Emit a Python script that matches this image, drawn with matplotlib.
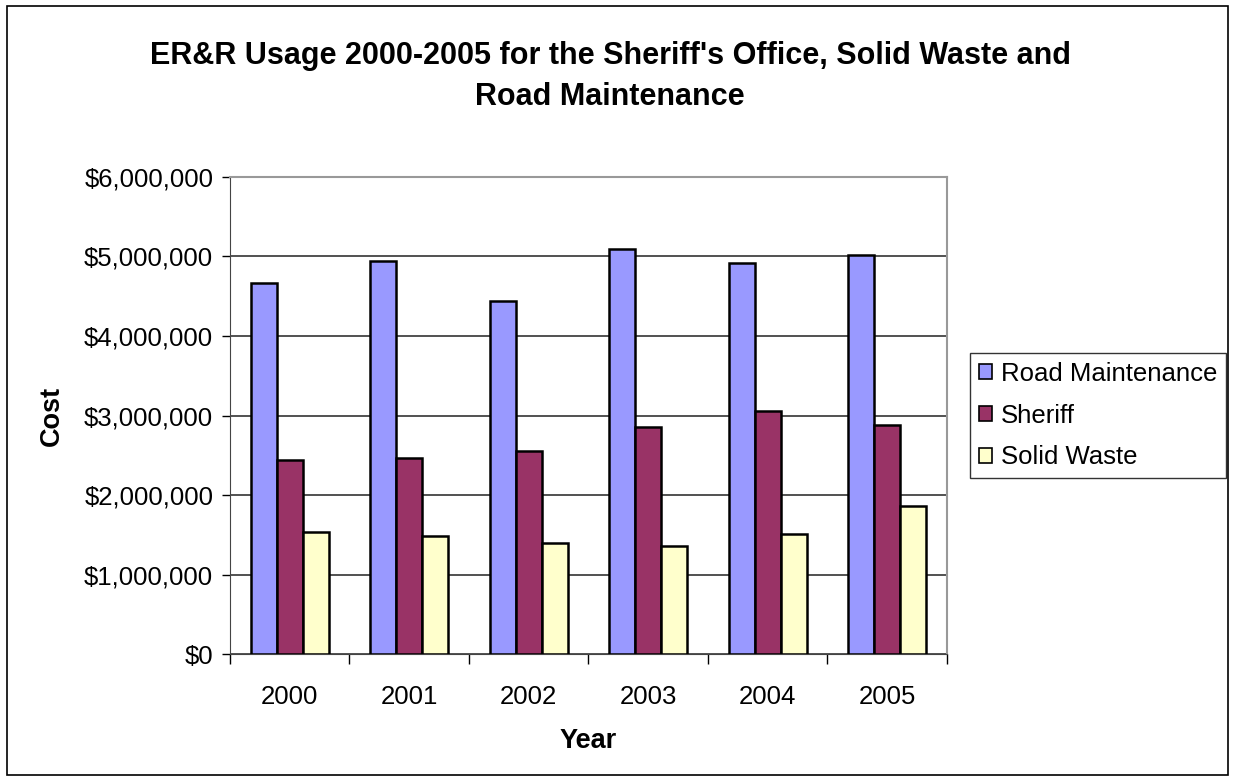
import matplotlib.pyplot as plt
from matplotlib.patches import Rectangle
from matplotlib.ticker import FuncFormatter
import numpy as np

plt.rcParams['font.family'] = ['Liberation Sans', 'DejaVu Sans']

years = ['2000', '2001', '2002', '2003', '2004', '2005']
road = [4665000, 4940000, 4435000, 5095000, 4920000, 5020000]
sheriff = [2446000, 2470000, 2550000, 2855000, 3055000, 2884000]
solid = [1530000, 1484000, 1400000, 1353000, 1504000, 1862000]

series = [('Road Maintenance', road, '#9999ff'),
          ('Sheriff', sheriff, '#993366'),
          ('Solid Waste', solid, '#ffffcc')]

fig = plt.figure(figsize=(12.35, 7.8), dpi=100)
ax = fig.add_axes([0.1862, 0.1615, 0.5806, 0.6116])

x = np.arange(len(years))
w = 0.2175
for i, (name, vals, col) in enumerate(series):
    ax.bar(x + (i - 1) * w, vals, width=w, color=col, edgecolor='black',
           linewidth=1.8, label=name, zorder=3)

ax.set_xlim(-0.5, len(years) - 0.5)
ax.set_ylim(0, 6000000)
ax.set_yticks(np.arange(0, 6000001, 1000000))
ax.yaxis.set_major_formatter(FuncFormatter(lambda v, p: '${:,.0f}'.format(v)))
ax.grid(axis='y', color='#333333', linewidth=1.2, zorder=0)

ax.set_xticks(x)
ax.set_xticklabels(years)
ax.set_xticks(np.arange(-0.5, len(years)), minor=True)
ax.tick_params(axis='x', which='major', length=0, pad=22, labelsize=18.5)
ax.tick_params(axis='x', which='minor', length=7, width=1, direction='out')
ax.tick_params(axis='y', length=6, width=1, direction='out', pad=6, labelsize=18.5)

for s in ['top', 'right']:
    ax.spines[s].set_color('#999999')
    ax.spines[s].set_linewidth(1.5)
ax.spines['left'].set_color('#444444')
ax.spines['bottom'].set_color('#444444')

ax.set_xlabel('Year', fontsize=19.5, fontweight='bold', labelpad=14)
ax.set_ylabel('Cost', fontsize=19.5, fontweight='bold', labelpad=14)

fig.text(0.494, 0.902, "ER&R Usage 2000-2005 for the Sheriff's Office, Solid Waste and\nRoad Maintenance",
         ha='center', va='center', fontsize=22, fontweight='bold', linespacing=1.45)

leg = ax.legend(loc='center left', bbox_to_anchor=(1.032, 0.5), fontsize=18.5,
                frameon=True, fancybox=False, edgecolor='black',
                handlelength=0.5, handleheight=0.5, handletextpad=0.35,
                borderpad=0.35, labelspacing=0.7, borderaxespad=0)
leg.get_frame().set_linewidth(1.0)
for h in leg.legend_handles:
    h.set_linewidth(1.2)

fig.patches.append(Rectangle((0.006, 0.006), 0.988, 0.986, transform=fig.transFigure,
                             fill=False, edgecolor='black', linewidth=1.2))

fig.savefig('out.png', dpi=100)
